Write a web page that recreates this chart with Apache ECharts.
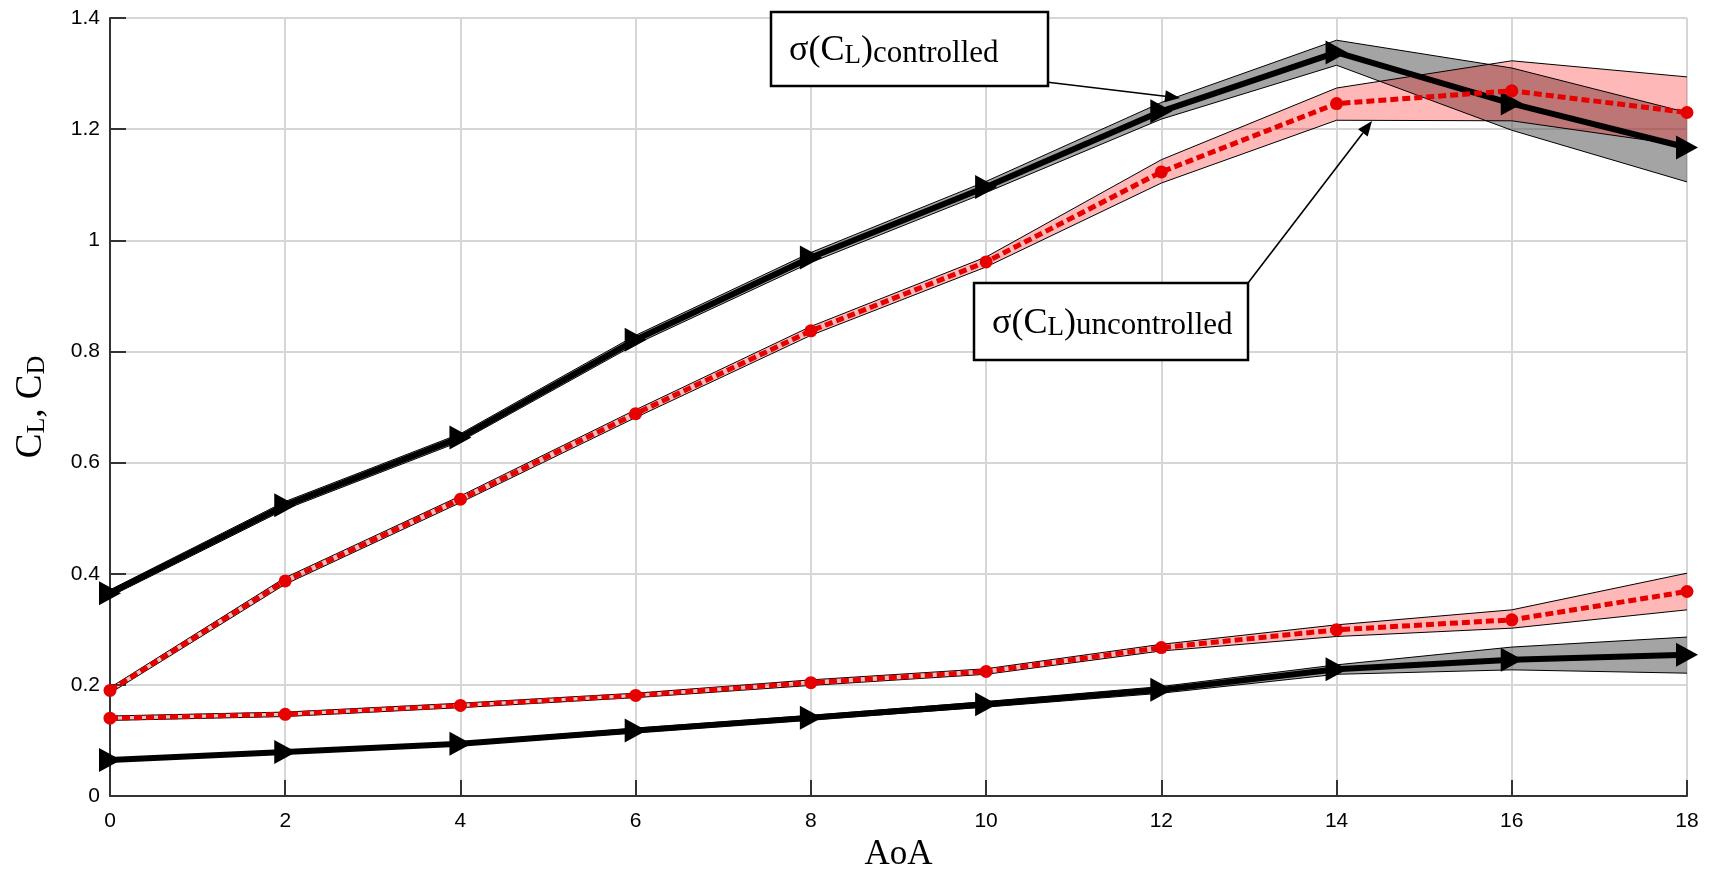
<!DOCTYPE html>
<html>
<head>
<meta charset="utf-8">
<script src="https://cdn.jsdelivr.net/npm/echarts@6/dist/echarts.min.js"></script>
<style>
  html, body { margin: 0; padding: 0; background: #fff; }
  #chart { width: 1712px; height: 870px; }
</style>
</head>
<body>
<div id="chart"></div>
<script>
// angle of attack (x categories)
const aoa = ['0', '2', '4', '6', '8', '10', '12', '14', '16', '18'];

// lift coefficient, controlled (black, triangles) + std band
const clCtrl   = [0.365, 0.523, 0.645, 0.821, 0.969, 1.096, 1.232, 1.338, 1.246, 1.167];
const clCtrlLo = [0.359, 0.516, 0.638, 0.813, 0.960, 1.086, 1.218, 1.315, 1.198, 1.105];
const clCtrlHi = [0.371, 0.530, 0.652, 0.829, 0.978, 1.106, 1.248, 1.360, 1.310, 1.230];

// lift coefficient, uncontrolled (red, circles) + std band
const clUnc   = [0.190, 0.387, 0.534, 0.688, 0.837, 0.961, 1.123, 1.246, 1.269, 1.230];
const clUncLo = [0.185, 0.381, 0.528, 0.681, 0.829, 0.952, 1.103, 1.216, 1.215, 1.170];
const clUncHi = [0.195, 0.393, 0.540, 0.695, 0.845, 0.970, 1.145, 1.274, 1.323, 1.294];

// drag coefficient, uncontrolled (red) + std band
const cdUnc   = [0.140, 0.147, 0.163, 0.181, 0.204, 0.224, 0.267, 0.299, 0.317, 0.368];
const cdUncLo = [0.136, 0.143, 0.159, 0.177, 0.199, 0.219, 0.261, 0.287, 0.302, 0.335];
const cdUncHi = [0.144, 0.151, 0.167, 0.185, 0.209, 0.229, 0.273, 0.308, 0.335, 0.401];

// drag coefficient, controlled (black) + std band
const cdCtrl   = [0.065, 0.079, 0.094, 0.118, 0.141, 0.165, 0.191, 0.228, 0.245, 0.254];
const cdCtrlLo = [0.062, 0.076, 0.091, 0.114, 0.137, 0.160, 0.185, 0.219, 0.227, 0.221];
const cdCtrlHi = [0.068, 0.082, 0.097, 0.122, 0.145, 0.170, 0.197, 0.236, 0.268, 0.286];

const yTicks = { min: 0, max: 1.4, step: 0.2 };

const GREY_FILL = 'rgba(90,90,90,0.55)';
const PINK_FILL = 'rgba(255,0,0,0.28)';
const RED = '#e60000';

function band(id, lo, hi, fill) {
  return [
    {
      name: id + '_lo', type: 'line', stack: id, data: lo, symbol: 'none',
      lineStyle: { color: '#000', width: 1 }, silent: true, z: 2
    },
    {
      name: id + '_hi', type: 'line', stack: id,
      data: hi.map((v, i) => +(v - lo[i]).toFixed(4)), symbol: 'none',
      lineStyle: { color: '#000', width: 1 },
      areaStyle: { color: fill, opacity: 1 }, silent: true, z: 2
    }
  ];
}

function blackLine(name, data) {
  return {
    name: name, type: 'line', data: data,
    symbol: 'triangle', symbolSize: [24, 22], symbolRotate: -90,
    itemStyle: { color: '#000' },
    lineStyle: { color: '#000', width: 6 }, z: 3
  };
}

function redLine(name, data) {
  return {
    name: name, type: 'line', data: data,
    symbol: 'circle', symbolSize: 13,
    itemStyle: { color: RED },
    lineStyle: { color: RED, width: 5, type: [8, 4] }, z: 4
  };
}

// arrow with filled head, pixel coords
function arrow(x1, y1, x2, y2) {
  const a = Math.atan2(y2 - y1, x2 - x1), L = 15, W = 6;
  const bx = x2 - L * Math.cos(a), by = y2 - L * Math.sin(a);
  const px = -Math.sin(a) * W, py = Math.cos(a) * W;
  return [
    { type: 'line', shape: { x1: x1, y1: y1, x2: bx, y2: by }, style: { stroke: '#000', lineWidth: 1.6 }, z: 20 },
    { type: 'polygon', shape: { points: [[x2, y2], [bx + px, by + py], [bx - px, by - py]] }, style: { fill: '#000' }, z: 20 }
  ];
}

const serif = 'Liberation Serif, Times New Roman, serif';
const labelRich = {
  a: { fontFamily: serif, fontSize: 36, color: '#000', verticalAlign: 'bottom' },
  s: { fontFamily: serif, fontSize: 27, color: '#000', verticalAlign: 'bottom' },
  b: { fontFamily: serif, fontSize: 31, color: '#000', verticalAlign: 'bottom' }
};

function noteBox(x, y, w, h, sub) {
  return [
    { type: 'rect', shape: { x: x, y: y, width: w, height: h }, style: { fill: '#fff', stroke: '#000', lineWidth: 2.5 }, z: 21 },
    {
      type: 'text', x: x + 18, y: y + h / 2 + 2, z: 22,
      style: {
        text: '{a|σ(C}{s|L}{a|)}{b|' + sub + '}',
        rich: labelRich, verticalAlign: 'middle', align: 'left'
      }
    }
  ];
}

const chart = echarts.init(document.getElementById('chart'));

const option = {
  animation: false,
  backgroundColor: '#fff',
  grid: { left: 110, right: 25, top: 18, bottom: 74, containLabel: false, outerBoundsMode: 'none' },
  xAxis: {
    type: 'category', data: aoa, boundaryGap: false,
    name: 'AoA', nameLocation: 'middle', nameGap: 36,
    nameTextStyle: { fontFamily: serif, fontSize: 35, color: '#000' },
    axisLine: { lineStyle: { color: '#333', width: 2 } },
    axisTick: { inside: true, length: 16, lineStyle: { color: '#333', width: 2 }, alignWithLabel: true },
    axisLabel: { fontFamily: 'Liberation Sans, Arial', fontSize: 21, color: '#000', margin: 15 },
    splitLine: { show: true, interval: 0, lineStyle: { color: '#d6d6d6', width: 2 } }
  },
  yAxis: {
    type: 'value', min: yTicks.min, max: yTicks.max, interval: yTicks.step,
    name: '{c|C}{s|L}{c|, C}{s|D}', nameLocation: 'middle', nameGap: 60, nameRotate: 90,
    nameTextStyle: {
      rich: {
        c: { fontFamily: serif, fontSize: 37, color: '#000', verticalAlign: 'bottom' },
        s: { fontFamily: serif, fontSize: 26, color: '#000', verticalAlign: 'bottom' }
      }
    },
    axisLine: { show: true, lineStyle: { color: '#333', width: 2 } },
    axisTick: { show: true, inside: true, length: 16, lineStyle: { color: '#333', width: 2 } },
    axisLabel: { fontFamily: 'Liberation Sans, Arial', fontSize: 21, color: '#000', margin: 10 },
    splitLine: { show: true, lineStyle: { color: '#d6d6d6', width: 2 } }
  },
  series: [].concat(
    band('clCtrlBand', clCtrlLo, clCtrlHi, GREY_FILL),
    band('cdCtrlBand', cdCtrlLo, cdCtrlHi, GREY_FILL),
    band('clUncBand', clUncLo, clUncHi, PINK_FILL),
    band('cdUncBand', cdUncLo, cdUncHi, PINK_FILL),
    [
      blackLine('CL controlled', clCtrl),
      blackLine('CD controlled', cdCtrl),
      redLine('CL uncontrolled', clUnc),
      redLine('CD uncontrolled', cdUnc)
    ]
  ),
  graphic: [].concat(
    arrow(1046, 82, 1180, 98),
    noteBox(771, 12, 277, 74, 'controlled'),
    arrow(1248, 283, 1372, 121),
    noteBox(974, 283, 274, 77, 'uncontrolled')
  )
};

chart.setOption(option);
</script>
</body>
</html>
